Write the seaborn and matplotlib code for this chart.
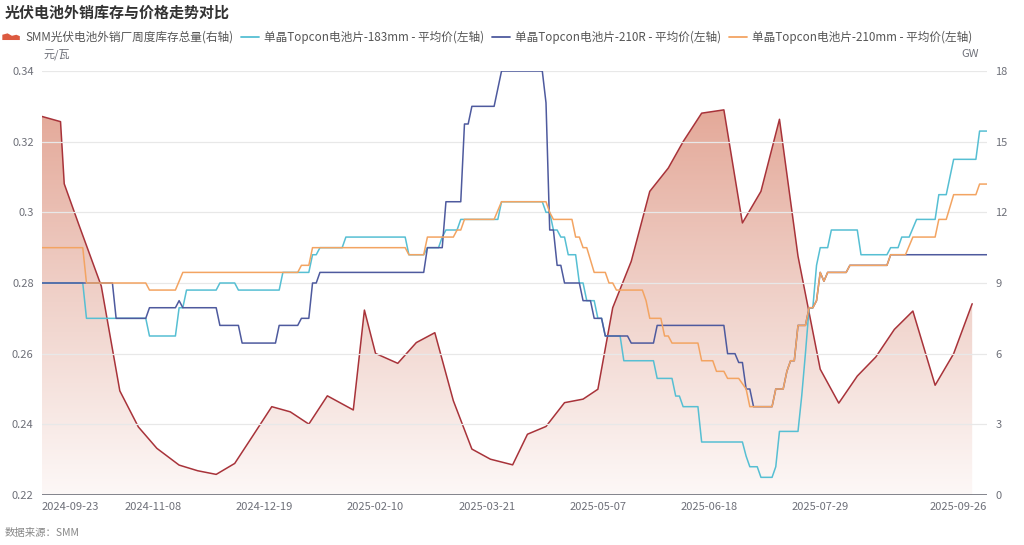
import numpy as np
import pandas as pd
import matplotlib
matplotlib.use("Agg")
import matplotlib.pyplot as plt
from matplotlib.patches import Patch, Polygon
from matplotlib.lines import Line2D
from matplotlib.colors import LinearSegmentedColormap
from matplotlib.legend_handler import HandlerPatch
import seaborn as sns

sns.set_theme(style="white")
plt.rcParams['font.family'] = ['Noto Sans CJK SC', 'DejaVu Sans']

# ---------------- data ----------------
n_days = 256  # trading-day index 0..255
tick_idx = [0, 30, 60, 90, 120, 150, 180, 210, 255]
tick_labels = ["2024-09-23", "2024-11-08", "2024-12-19", "2025-02-10", "2025-03-21",
               "2025-05-07", "2025-06-18", "2025-07-29", "2025-09-26"]

# price change points: (day index where new price applies), price (元/瓦)
p183_days = [0, 12, 29, 37, 39, 48, 53, 65, 73, 75, 82, 99, 104, 108, 109, 113, 124,
             136, 138, 140, 142, 145, 147, 150, 152, 157, 166, 171, 173, 178, 190, 191,
             194, 198, 199, 205, 206, 207, 209, 210, 213, 221, 229, 232, 235, 236, 242,
             245, 246, 253]
p183_vals = [0.28, 0.27, 0.265, 0.273, 0.278, 0.28, 0.278, 0.283, 0.288, 0.29, 0.293,
             0.288, 0.29, 0.293, 0.295, 0.298, 0.303, 0.30, 0.295, 0.293, 0.288, 0.28,
             0.275, 0.27, 0.265, 0.258, 0.253, 0.248, 0.245, 0.235, 0.231, 0.228, 0.225,
             0.228, 0.238, 0.248, 0.26, 0.273, 0.285, 0.29, 0.295, 0.288, 0.29, 0.293,
             0.2955, 0.298, 0.305, 0.31, 0.315, 0.323]

p210r_days = [0, 20, 29, 37, 38, 48, 54, 64, 70, 73, 75, 104, 109, 114, 116, 123, 124,
              136, 137, 139, 141, 146, 149, 152, 159, 166, 185, 188, 190, 192, 198, 201,
              202, 204, 207, 209, 210, 211, 212, 218, 229]
p210r_vals = [0.28, 0.27, 0.273, 0.275, 0.273, 0.268, 0.263, 0.268, 0.27, 0.28, 0.283,
              0.29, 0.303, 0.325, 0.33, 0.335, 0.34, 0.331, 0.295, 0.285, 0.28, 0.275,
              0.27, 0.265, 0.263, 0.268, 0.26, 0.2575, 0.25, 0.245, 0.25, 0.255, 0.258,
              0.268, 0.273, 0.275, 0.283, 0.2805, 0.283, 0.285, 0.288]

p210_days = [0, 12, 29, 37, 38, 70, 73, 99, 104, 112, 114, 123, 124, 137, 138, 144, 146,
             148, 149, 153, 155, 163, 164, 168, 170, 178, 182, 185, 189, 190, 191, 198,
             201, 202, 204, 207, 209, 210, 211, 212, 218, 229, 234, 235, 242, 245, 246, 253]
p210_vals = [0.29, 0.28, 0.278, 0.2805, 0.283, 0.285, 0.29, 0.288, 0.293, 0.295, 0.298,
             0.3005, 0.303, 0.30, 0.298, 0.293, 0.29, 0.2865, 0.283, 0.28, 0.278, 0.275,
             0.27, 0.265, 0.263, 0.258, 0.255, 0.253, 0.2515, 0.25, 0.245, 0.25, 0.255,
             0.258, 0.268, 0.273, 0.275, 0.283, 0.2805, 0.283, 0.285, 0.288, 0.2905, 0.293,
             0.298, 0.3015, 0.305, 0.308]

# weekly inventory (GW) at day index
inv_days = [0, 5, 6, 10, 16, 21, 26, 31, 37, 42, 47, 52, 57, 62, 67, 72, 77, 84, 87, 90,
            96, 101, 106, 111, 116, 121, 127, 131, 136, 141, 146, 150, 154, 159, 164, 169,
            173, 178, 184, 189, 194, 199, 204, 210, 215, 220, 225, 230, 235, 241, 246, 251]
inv_vals = [16.07, 15.85, 13.21, 11.45, 8.87, 4.42, 2.89, 1.98, 1.27, 1.03, 0.875, 1.34,
            2.54, 3.75, 3.53, 3.01, 4.21, 3.61, 7.85, 6.01, 5.59, 6.47, 6.89, 4.0, 1.95,
            1.52, 1.28, 2.58, 2.91, 3.92, 4.07, 4.49, 7.95, 9.92, 12.89, 13.88, 15.0,
            16.21, 16.35, 11.55, 12.89, 15.95, 10.14, 5.34, 3.9, 5.05, 5.86, 7.03, 7.81,
            4.66, 6.0, 8.12]

name_inv = "SMM光伏电池外销厂周度库存总量(右轴)"
name_183 = "单晶Topcon电池片-183mm - 平均价(左轴)"
name_210r = "单晶Topcon电池片-210R - 平均价(左轴)"
name_210 = "单晶Topcon电池片-210mm - 平均价(左轴)"

col_inv_line = "#a8333a"
col_inv_icon = "#dc5a40"
col_183 = "#56bfd3"
col_210r = "#4e5a9e"
col_210 = "#f3a462"


def daily(days, vals):
    s = pd.Series(np.nan, index=np.arange(n_days))
    s.loc[days] = vals
    return s.ffill().values


idx = np.arange(n_days)
price_df = pd.concat([
    pd.DataFrame({"idx": idx, "price": daily(p183_days, p183_vals), "series": name_183}),
    pd.DataFrame({"idx": idx, "price": daily(p210r_days, p210r_vals), "series": name_210r}),
    pd.DataFrame({"idx": idx, "price": daily(p210_days, p210_vals), "series": name_210}),
])
inv_df = pd.DataFrame({"idx": inv_days, "inv": inv_vals})

# ---------------- figure ----------------
fig = plt.figure(figsize=(10.24, 5.45), dpi=100)
ax = fig.add_axes([42 / 1024, 1 - 495 / 545, 945 / 1024, 424 / 545])
ax2 = ax.twinx()
ax.set_zorder(ax2.get_zorder() + 1)
ax.patch.set_visible(False)

# inventory area with gradient
sns.lineplot(data=inv_df, x="idx", y="inv", ax=ax2, color=col_inv_line, lw=1.1,
             legend=False, zorder=3)
poly = ax2.fill_between(inv_df["idx"], 0, inv_df["inv"], color="none", lw=0)
cmap = LinearSegmentedColormap.from_list("g", ["#fdf8f7", "#f0d2ca", "#e4a999"])
ymax = max(inv_vals)
grad = np.linspace(0, 1, 256).reshape(-1, 1)
im = ax2.imshow(grad, aspect="auto", cmap=cmap, origin="lower",
                extent=[0, max(inv_days), 0, ymax], zorder=1, interpolation="bilinear")
im.set_clip_path(poly.get_paths()[0], transform=ax2.transData)

# prices
palette = {name_183: col_183, name_210r: col_210r, name_210: col_210}
sns.lineplot(data=price_df, x="idx", y="price", hue="series", palette=palette, ax=ax,
             lw=1.1, legend=False, hue_order=[name_183, name_210r, name_210])

# axes
ax.set_xlim(0, n_days - 1)
ax.set_ylim(0.22, 0.34)
ax2.set_ylim(0, 18)
lt = [0.22, 0.24, 0.26, 0.28, 0.30, 0.32, 0.34]
ax.set_yticks(lt)
ax.set_yticklabels(["0.22", "0.24", "0.26", "0.28", "0.3", "0.32", "0.34"])
ax2.set_yticks([0, 3, 6, 9, 12, 15, 18])
ax2.set_yticklabels(["0", "3", "6", "9", "12", "15", "18"])
ax.set_xticks(tick_idx)
ax.set_xticklabels(tick_labels)
xl = ax.get_xticklabels()
xl[0].set_ha("left")
xl[-1].set_ha("right")
ax.set_xlabel("")
ax.set_ylabel("")
ax2.set_ylabel("")
ax2.set_xlabel("")

tick_col = "#6e7079"
for a in (ax, ax2):
    a.tick_params(axis="both", length=0, labelsize=8, colors=tick_col, pad=6)
    for sp in a.spines.values():
        sp.set_visible(False)
ax.tick_params(axis="x", pad=5)
ax2.grid(False)
ax.grid(False)
for v in lt[1:]:
    ax.axhline(v, color="#e8e8e8", lw=0.9, zorder=0)
ax.axhline(0.22, color="#6e7079", lw=1.2, zorder=5)

# texts
fig.text(5 / 1024, 1 - 13 / 545, "光伏电池外销库存与价格走势对比", fontsize=10.8,
         fontweight="bold", color="#333333", va="center", ha="left")
fig.text(43 / 1024, 1 - 54 / 545, "元/瓦", fontsize=8, color=tick_col, va="center", ha="left")
fig.text(970 / 1024, 1 - 54 / 545, "GW", fontsize=8, color=tick_col, va="center", ha="center")
fig.text(5 / 1024, 1 - 533 / 545, "数据来源：SMM", fontsize=7.5, color="#888888",
         va="center", ha="left")


class HandlerMountain(HandlerPatch):
    def create_artists(self, legend, orig_handle, xdescent, ydescent, width, height,
                       fontsize, trans):
        w, h = width, height
        pts = [(0, 0), (0, h * 0.75), (w * 0.3, h * 0.95), (w * 0.55, h * 0.6),
               (w * 0.8, h * 0.75), (w, h * 0.55), (w, 0)]
        p = Polygon([(x - xdescent, y - ydescent) for x, y in pts], closed=True,
                    facecolor=orig_handle.get_facecolor(), edgecolor="none",
                    transform=trans)
        return [p]


handles = [
    Patch(facecolor=col_inv_icon, edgecolor="none"),
    Line2D([], [], color=col_183, lw=1.3),
    Line2D([], [], color=col_210r, lw=1.3),
    Line2D([], [], color=col_210, lw=1.3),
]
labels = [name_inv, name_183, name_210r, name_210]
fig.legend(handles, labels, loc="center left", bbox_to_anchor=(0.0, 1 - 37 / 545),
           ncol=4, frameon=False, fontsize=8.4, handlelength=1.5, handleheight=0.55,
           handletextpad=0.45, columnspacing=0.7, labelcolor="#555555",
           borderaxespad=0, borderpad=0.2,
           handler_map={Patch: HandlerMountain()})

fig.savefig("out.png", dpi=100)
